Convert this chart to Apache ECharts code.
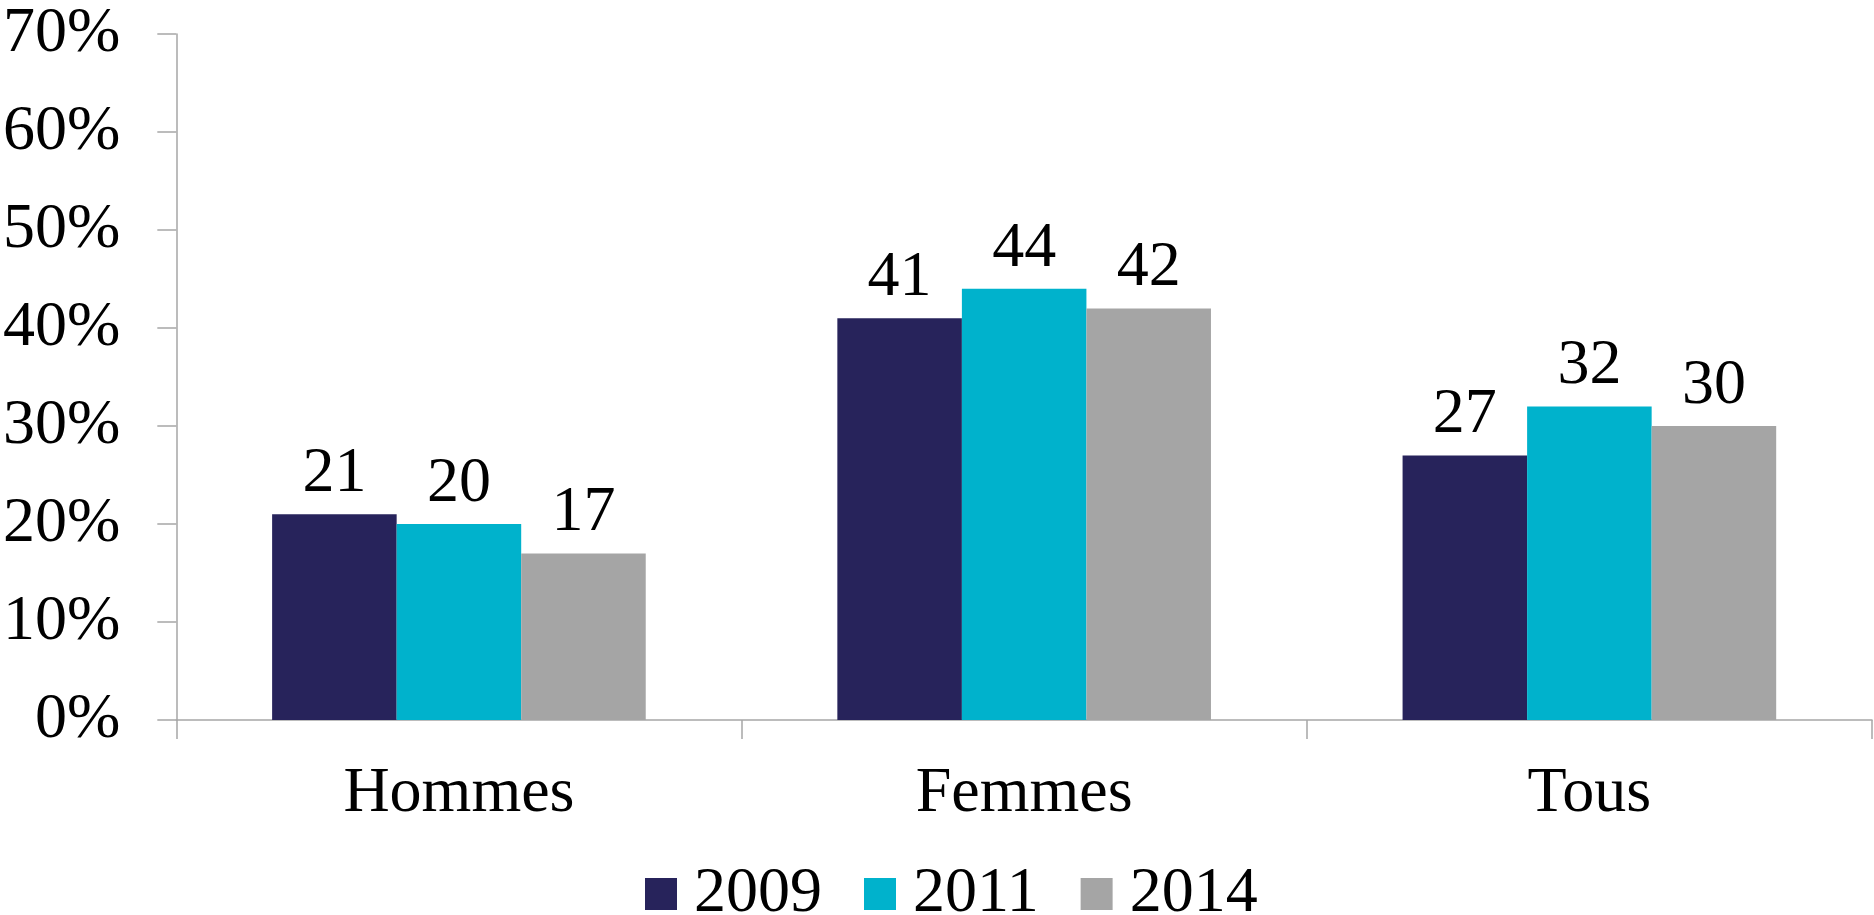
<!DOCTYPE html>
<html>
<head>
<meta charset="utf-8">
<script src="https://cdn.jsdelivr.net/npm/echarts@6/dist/echarts.min.js"></script>
<style>
html,body{margin:0;padding:0;background:#fff;}
#chart{width:1874px;height:915px;}
</style>
</head>
<body>
<div id="chart"></div>
<script>
const categories = ['Hommes', 'Femmes', 'Tous'];
const seriesNames = ['2009', '2011', '2014'];
const values2009 = [21, 41, 27];
const values2011 = [20, 44, 32];
const values2014 = [17, 42, 30];
const colors = ['#27235B', '#00B2CC', '#A5A5A5'];

const font = 'Liberation Serif';
const fsz = 64;
const allValues = [values2009, values2011, values2014];

const chart = echarts.init(document.getElementById('chart'));
chart.setOption({
  animation: false,
  backgroundColor: '#fff',
  grid: {left: 171, right: 2, top: 34, bottom: 195, containLabel: false},
  legend: {
    data: seriesNames,
    left: 640,
    top: 857,
    icon: 'rect',
    itemWidth: 32,
    itemHeight: 32,
    itemGap: 42,
    textStyle: {fontFamily: font, fontSize: fsz, color: '#000', padding: [0, 0, 0, 12]}
  },
  xAxis: {
    type: 'category',
    data: categories,
    axisLine: {lineStyle: {color: '#A6A6A6', width: 1.5}},
    axisTick: {show: true, length: 19, lineStyle: {color: '#A6A6A6', width: 1.5}},
    axisLabel: {fontFamily: font, fontSize: fsz, color: '#000', margin: 42}
  },
  yAxis: {
    type: 'value',
    min: 0, max: 70, interval: 10,
    axisLine: {show: true, lineStyle: {color: '#A6A6A6', width: 1.5}},
    axisTick: {show: true, length: 19, lineStyle: {color: '#A6A6A6', width: 1.5}},
    splitLine: {show: false},
    axisLabel: {fontFamily: font, fontSize: fsz, color: '#000', margin: 56, formatter: '{value}%'}
  },
  series: seriesNames.map((name, i) => ({
    name: name,
    type: 'bar',
    data: allValues[i],
    barGap: '0%',
    barCategoryGap: '33.9%',
    itemStyle: {color: colors[i]},
    label: {show: true, position: 'top', distance: 8, fontFamily: font, fontSize: fsz, color: '#000'}
  }))
});
</script>
</body>
</html>
